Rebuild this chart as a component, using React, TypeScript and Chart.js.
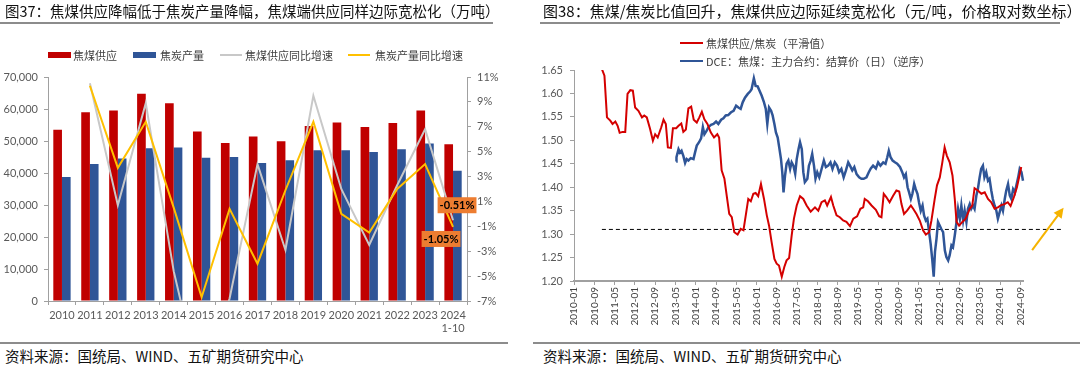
import React, { useEffect, useRef } from 'react';
import { Chart, registerables } from 'chart.js';

Chart.register(...registerables);

// ---------------- Left chart data (万吨 / %) ----------------
const years: (string | string[])[] = ['2010', '2011', '2012', '2013', '2014', '2015', '2016', '2017', '2018', '2019', '2020', '2021', '2022', '2023', ['2024', '1-10']];
const cokingCoalSupply = [53500, 59000, 59500, 64800, 61800, 53000, 49400, 51400, 49900, 54700, 55800, 54400, 55600, 59500, 49000];
const cokeOutput = [38750, 42800, 44500, 47700, 48000, 44800, 45000, 43100, 44000, 47100, 47100, 46600, 47400, 49200, 40700];
const supplyYoY = [null, 10.5, 0.7, 8.9, -4.6, -14.2, -6.8, 4.0, -2.9, 9.5, 2.0, -2.5, 2.3, 6.8, -0.51];
const cokeYoY = [null, 10.3, 3.7, 7.4, 0.5, -6.7, 0.4, -4.0, 1.9, 7.4, 0.0, -1.5, 2.0, 4.0, -1.05];
const leftTicksY = { min: 0, max: 70000, step: 10000 };
const rightTicksY = { min: -7, max: 11, step: 2 };

// ---------------- Right chart data ----------------
// months counted from 2010-01 (0 = 2010-01)
const ratioMonth = [
  11, 12, 13, 14.3, 15.2, 16.3, 17.2, 18, 19.1, 20.2,
  21.1, 22.2, 23.2, 24.1, 25.4, 26.8, 27.7, 28.7, 30, 31.1,
  32, 33, 34.4, 35.3, 36.2, 37, 38.2, 39, 40.3, 41.2,
  42.3, 43.1, 44.1, 45.1, 46.2, 47.2, 48.4, 49.4, 50.4, 51.4,
  52.6, 53.9, 55.2, 56.5, 57.2, 58.2, 59.3, 60.2, 61.2, 62.2,
  63.2, 64.5, 65.7, 66.8, 67.8, 68.7, 69.7, 70.7, 71.6, 72.6,
  73.7, 74.9, 76.0, 76.9, 77.9, 79.0, 79.9, 80.8, 81.9, 82.9,
  83.8, 84.8, 85.8, 86.7, 87.8, 89.1, 90.4, 91.7, 93.3, 95.0,
  96.3, 97.6, 98.9, 99.8, 101.3, 102.2, 103.5, 104.8, 106.1, 107.4,
  108.8, 110.1, 111.6, 112.9, 114.0, 114.6, 115.9, 117.3, 119.0, 120.3,
  121.2, 122.1, 123.1, 124.4, 125.8, 127.1, 128.2, 129.1, 130.1, 131.3,
  132.8, 133.7, 135.0, 136.3, 137.6, 138.7, 140.0, 140.9, 142.2, 143.1,
  144.2, 145.2, 146.1, 147.0, 148.1, 149.2, 150.1, 150.8, 151.8, 153.1,
  154.4, 156.0, 157.0, 157.9, 159.2, 160.6, 161.9, 163.2, 164.5, 165.8,
  167.1, 168.4, 169.7, 171.0, 172.1, 173.4, 174.6, 175.6, 176.3,
];
const ratioValue = [
  1.652, 1.638, 1.549, 1.542, 1.535, 1.540, 1.531, 1.516, 1.518, 1.518,
  1.599, 1.607, 1.606, 1.570, 1.563, 1.549, 1.553, 1.549, 1.524, 1.499,
  1.513, 1.506, 1.528, 1.544, 1.535, 1.485, 1.484, 1.526, 1.526, 1.531,
  1.536, 1.518, 1.523, 1.568, 1.572, 1.544, 1.538, 1.549, 1.561, 1.545,
  1.535, 1.517, 1.506, 1.513, 1.506, 1.436, 1.418, 1.382, 1.343, 1.336,
  1.304, 1.299, 1.311, 1.308, 1.343, 1.375, 1.370, 1.386, 1.388, 1.381,
  1.407, 1.375, 1.340, 1.318, 1.283, 1.247, 1.237, 1.233, 1.209, 1.230,
  1.244, 1.249, 1.297, 1.333, 1.361, 1.381, 1.375, 1.361, 1.348, 1.357,
  1.350, 1.368, 1.372, 1.361, 1.379, 1.361, 1.340, 1.336, 1.329, 1.326,
  1.317, 1.333, 1.338, 1.354, 1.357, 1.375, 1.370, 1.361, 1.352, 1.338,
  1.336, 1.386, 1.379, 1.368, 1.382, 1.393, 1.391, 1.364, 1.343, 1.350,
  1.361, 1.354, 1.343, 1.329, 1.308, 1.299, 1.304, 1.329, 1.375, 1.404,
  1.421, 1.453, 1.485, 1.467, 1.453, 1.425, 1.375, 1.326, 1.318, 1.326,
  1.333, 1.354, 1.361, 1.398, 1.393, 1.386, 1.389, 1.375, 1.368, 1.354,
  1.357, 1.362, 1.364, 1.368, 1.360, 1.379, 1.400, 1.425, 1.443,
];
// DCE coking coal settlement price (元/吨), plotted on a reversed log axis
const dceMonth = [
  40.3, 40.4, 41.2, 41.8, 42.4, 43.1, 43.8, 44.4, 45.1, 46.0,
  47.1, 47.7, 48.4, 49.3, 50.1, 50.8, 51.4, 52.3, 53.0, 54.0,
  55.0, 56.0, 56.9, 58.0, 58.9, 59.8, 60.8, 61.9, 62.9, 63.9,
  64.8, 65.7, 66.5, 67.4, 68.5, 69.4, 70.0, 70.9, 71.6, 72.4,
  73.1, 74.0, 74.9, 75.6, 76.2, 76.9, 77.7, 78.3, 79.0, 79.6,
  80.3, 80.9, 81.6, 82.1, 82.6, 83.2, 83.8, 84.5, 85.2, 85.8,
  86.5, 87.2, 87.8, 88.5, 89.1, 89.8, 90.4, 91.0, 92.0, 92.6,
  93.3, 93.9, 94.6, 95.2, 95.9, 96.7, 97.6, 98.5, 99.3, 100.2,
  101.1, 101.9, 102.8, 103.7, 104.5, 105.4, 106.3, 107.2, 108.1, 108.8,
  109.7, 110.5, 111.4, 112.4, 113.3, 114.2, 115.3, 116.2, 117.0, 117.9,
  119.0, 119.9, 120.8, 121.9, 122.8, 123.5, 124.1, 124.8, 125.6, 126.5,
  127.4, 128.5, 129.4, 130.1, 130.8, 131.5, 132.1, 132.8, 133.4, 134.1,
  134.7, 135.4, 136.0, 136.7, 137.4, 138.0, 138.7, 139.3, 140.0, 140.6,
  141.2, 141.8, 142.3, 142.9, 143.5, 144.2, 144.8, 145.5, 146.2, 146.8,
  147.5, 148.1, 148.8, 149.4, 150.1, 150.8, 151.4, 152.1, 152.7, 153.4,
  154.0, 154.7, 155.3, 156.0, 156.6, 157.3, 157.9, 158.6, 159.2, 159.9,
  160.5, 161.2, 161.8, 162.5, 163.2, 163.8, 164.5, 165.1, 165.8, 166.5,
  167.1, 167.8, 168.5, 169.1, 169.8, 170.4, 171.1, 171.8, 172.4, 173.1,
  173.8, 174.4, 175.1, 175.7, 176.4, 177.0, 177.7, 178.3, 179.3,
];
const dcePrice = [
  1235, 1189, 1106, 1140, 1121, 1174, 1251, 1209, 1225, 1199,
  1209, 1140, 1070, 1038, 1003, 906, 966, 934, 906, 887,
  880, 861, 880, 847, 836, 815, 812, 792, 782, 746,
  759, 768, 724, 694, 671, 657, 643, 583, 624, 627,
  651, 682, 724, 768, 880, 759, 782, 815, 880, 950,
  995, 1088, 1209, 1361, 1633, 1402, 1261, 1225, 1322, 1245,
  1283, 1379, 1209, 1106, 1038, 1106, 1361, 1488, 1444, 1283,
  1225, 1154, 1283, 1444, 1361, 1426, 1322, 1225, 1299, 1283,
  1245, 1322, 1245, 1283, 1361, 1322, 1426, 1339, 1245, 1283,
  1339, 1299, 1385, 1426, 1444, 1444, 1426, 1361, 1316, 1283,
  1316, 1245, 1283, 1245, 1261, 1189, 1121, 1189, 1225, 1245,
  1261, 1299, 1361, 1426, 1385, 1559, 1633, 1733, 1654, 1514,
  1586, 1654, 1785, 1927, 1839, 2010, 2106, 2071, 2341, 2602,
  2981, 3500, 2797, 2484, 2133, 2206, 2273, 2341, 2762, 2930,
  3019, 2881, 2636, 2681, 2412, 2133, 1895, 2071, 1839, 2106,
  1927, 2133, 1895, 1816, 1895, 1839, 1895, 1683, 1586, 1426,
  1322, 1283, 1426, 1361, 1469, 1444, 1606, 1733, 1839, 1927,
  2071, 1951, 1839, 1927, 1733, 1606, 1514, 1683, 1733, 1586,
  1633, 1533, 1426, 1322, 1361, 1469, 1385, 1322, 1261,
];
const refLineMonth = [11, 192.6];
const refLineValue = [1.31, 1.31];
const arrowMonth = [180.6, 192.3];
const arrowValue = [1.266, 1.351];
const ratioAxis = { min: 1.2, max: 1.65, step: 0.05 };
const priceAxis = { min: 540.6, max: 3636.5 };
const monthAxis = { min: 0, max: 177, step: 8 };

const NUM_FONT = 'Lato, "Noto Sans CJK SC", sans-serif';
const CJK_FONT = '"Noto Sans CJK SC", "Noto Sans", sans-serif';
const AXIS_COLOR = '#A0A0A0';
const TICK_COLOR = '#595959';

const pts = (xs: number[], ys: number[]) => xs.map((x, i) => ({ x, y: ys[i] }));

const endLabelPlugin = {
  id: 'endLabels',
  afterDatasetsDraw(chart: any) {
    const ctx = chart.ctx;
    const items = [
      { ds: 2, text: '-0.51%', dx: 4, dy: -15 },
      { ds: 3, text: '-1.05%', dx: -12, dy: 12 },
    ];
    ctx.save();
    ctx.font = `bold 11px ${NUM_FONT}`;
    ctx.textAlign = 'center';
    ctx.textBaseline = 'middle';
    for (const it of items) {
      const meta = chart.getDatasetMeta(it.ds);
      const el = meta.data[meta.data.length - 1];
      if (!el) continue;
      const cx = el.x + it.dx;
      const cy = el.y + it.dy;
      const w = ctx.measureText(it.text).width + 4;
      const h = 16;
      ctx.fillStyle = '#ED7D31';
      ctx.fillRect(cx - w / 2, cy - h / 2, w, h);
      ctx.fillStyle = '#000';
      ctx.fillText(it.text, cx, cy + 0.5);
    }
    ctx.restore();
  },
};

const arrowHeadPlugin = {
  id: 'arrowHead',
  afterDatasetsDraw(chart: any) {
    const meta = chart.getDatasetMeta(3);
    const n = meta.data.length;
    if (n < 2) return;
    const a = meta.data[n - 2];
    const b = meta.data[n - 1];
    const ang = Math.atan2(b.y - a.y, b.x - a.x);
    const len = 10;
    const half = 5;
    const ctx = chart.ctx;
    ctx.save();
    ctx.translate(b.x, b.y);
    ctx.rotate(ang);
    ctx.beginPath();
    ctx.moveTo(3, 0);
    ctx.lineTo(3 - len, -half);
    ctx.lineTo(3 - len, half);
    ctx.closePath();
    ctx.fillStyle = '#F5B300';
    ctx.fill();
    ctx.restore();
  },
};

function LeftChart() {
  const ref = useRef<HTMLCanvasElement>(null);
  useEffect(() => {
    const chart = new Chart(ref.current as HTMLCanvasElement, {
      type: 'bar',
      data: {
        labels: years as any,
        datasets: [
          { type: 'bar', label: '焦煤供应', data: cokingCoalSupply, backgroundColor: '#C00000', yAxisID: 'y', order: 3, categoryPercentage: 0.62, barPercentage: 1 } as any,
          { type: 'bar', label: '焦炭产量', data: cokeOutput, backgroundColor: '#2F5597', yAxisID: 'y', order: 3, categoryPercentage: 0.62, barPercentage: 1 } as any,
          { type: 'line', label: '焦煤供应同比增速', data: supplyYoY, borderColor: '#C8C8C8', backgroundColor: '#C8C8C8', borderWidth: 2, pointRadius: 0, yAxisID: 'y1', order: 2, tension: 0 } as any,
          { type: 'line', label: '焦炭产量同比增速', data: cokeYoY, borderColor: '#FFC000', backgroundColor: '#FFC000', borderWidth: 2, pointRadius: 0, yAxisID: 'y1', order: 1, tension: 0 } as any,
        ],
      },
      options: {
        animation: false,
        responsive: false,
        events: [],
        layout: { padding: { top: 77, left: 0, right: 0, bottom: 0 } },
        plugins: { legend: { display: false }, tooltip: { enabled: false } },
        scales: {
          x: {
            grid: { display: true, drawOnChartArea: false, drawTicks: true, tickLength: 4, color: AXIS_COLOR, offset: true },
            border: { color: AXIS_COLOR },
            ticks: { color: TICK_COLOR, font: { family: NUM_FONT, size: 11 }, maxRotation: 0, autoSkip: false, padding: 4 },
            afterFit: (s: any) => { s.height = 39; },
          },
          y: {
            position: 'left',
            min: leftTicksY.min, max: leftTicksY.max,
            grid: { drawOnChartArea: false, tickLength: 4, color: AXIS_COLOR },
            border: { color: AXIS_COLOR },
            ticks: { stepSize: leftTicksY.step, color: TICK_COLOR, font: { family: NUM_FONT, size: 11 }, padding: 6, callback: (v: any) => Number(v).toLocaleString('en-US') },
            afterFit: (s: any) => { s.width = 48; },
          },
          y1: {
            position: 'right',
            min: rightTicksY.min, max: rightTicksY.max,
            grid: { drawOnChartArea: false, tickLength: 4, color: AXIS_COLOR },
            border: { color: AXIS_COLOR },
            ticks: { stepSize: rightTicksY.step, color: TICK_COLOR, font: { family: NUM_FONT, size: 11 }, padding: 6, callback: (v: any) => `${v}%` },
            afterFit: (s: any) => { s.width = 73; },
          },
        },
      } as any,
      plugins: [endLabelPlugin],
    });
    return () => chart.destroy();
  }, []);
  return <canvas ref={ref} width={540} height={340} style={{ position: 'absolute', left: 0, top: 0 }} />;
}

function RightChart() {
  const ref = useRef<HTMLCanvasElement>(null);
  useEffect(() => {
    const fmt = (v: number) => {
      const m = Math.round(v);
      const y = 2010 + Math.floor(m / 12);
      const mo = (m % 12) + 1;
      return `${y}-${mo < 10 ? '0' + mo : mo}`;
    };
    const chart = new Chart(ref.current as HTMLCanvasElement, {
      type: 'line',
      data: {
        datasets: [
          { label: '焦煤供应/焦炭（平滑值）', data: pts(ratioMonth, ratioValue), borderColor: '#D40000', borderWidth: 2, pointRadius: 0, yAxisID: 'y', tension: 0, order: 1 } as any,
          { label: 'DCE：焦煤：主力合约：结算价（日）（逆序）', data: pts(dceMonth, dcePrice), borderColor: '#2F5597', borderWidth: 2.5, pointRadius: 0, yAxisID: 'y2', tension: 0, clip: false, order: 2 } as any,
          { label: 'ref', data: pts(refLineMonth, refLineValue), borderColor: '#000', borderWidth: 1, borderDash: [4, 3], pointRadius: 0, yAxisID: 'y', clip: false, order: 3 } as any,
          { label: 'arrow', data: pts(arrowMonth, arrowValue), borderColor: '#F5B300', borderWidth: 2, pointRadius: 0, yAxisID: 'y', clip: false, order: 0 } as any,
        ],
      },
      options: {
        animation: false,
        responsive: false,
        events: [],
        layout: { padding: { top: 70, left: 0, right: 57, bottom: 0 } },
        plugins: { legend: { display: false }, tooltip: { enabled: false } },
        scales: {
          x: {
            type: 'linear',
            min: monthAxis.min, max: monthAxis.max, bounds: 'data',
            grid: { drawOnChartArea: false, tickLength: 4, color: AXIS_COLOR },
            border: { color: AXIS_COLOR, width: 2 },
            ticks: {
              stepSize: monthAxis.step, includeBounds: false, autoSkip: false, minRotation: 90, maxRotation: 90,
              color: '#404040', font: { family: NUM_FONT, size: 10 }, padding: 2,
              callback: (v: any) => fmt(Number(v)),
            },
            afterBuildTicks: (s: any) => {
              s.ticks = s.ticks.filter((t: any) => Math.abs(t.value % monthAxis.step) < 1e-6);
            },
            afterFit: (s: any) => { s.height = 59; },
          },
          y: {
            position: 'left',
            min: ratioAxis.min, max: ratioAxis.max,
            grid: { drawOnChartArea: false, tickLength: 4, color: AXIS_COLOR },
            border: { color: AXIS_COLOR },
            ticks: { stepSize: ratioAxis.step, color: TICK_COLOR, font: { family: NUM_FONT, size: 11 }, padding: 7, callback: (v: any) => Number(v).toFixed(2) },
            afterFit: (s: any) => { s.width = 34; },
          },
          y2: {
            type: 'logarithmic', display: false, reverse: true, bounds: 'data',
            min: priceAxis.min, max: priceAxis.max,
          },
        },
      } as any,
      plugins: [arrowHeadPlugin],
    });
    return () => chart.destroy();
  }, []);
  return <canvas ref={ref} width={540} height={340} style={{ position: 'absolute', left: 540, top: 0 }} />;
}

const abs = (s: React.CSSProperties): React.CSSProperties => ({ position: 'absolute', whiteSpace: 'nowrap', ...s });

function LegendText({ left, cy, text }: { left: number; cy: number; text: string }) {
  return <div style={abs({ left, top: cy - 8, height: 16, lineHeight: '16px', fontSize: 11, color: '#404040', fontFamily: CJK_FONT })}>{text}</div>;
}

export default function App() {
  return (
    <div style={{ position: 'absolute', left: 0, top: 0, width: 1080, height: 366, background: '#fff', overflow: 'hidden', fontFamily: CJK_FONT }}>
      <LeftChart />
      <RightChart />

      {/* titles */}
      <div style={abs({ left: 5, top: 2, fontSize: 14.5, lineHeight: '18px', color: '#111' })}>图37：焦煤供应降幅低于焦炭产量降幅，焦煤端供应同样边际宽松化（万吨）</div>
      <div style={abs({ left: 0, top: 22, width: 493, height: 2, background: '#8C8C8C' })} />
      <div style={abs({ left: 543, top: 2, fontSize: 15, lineHeight: '18px', color: '#111' })}>图38：焦煤/焦炭比值回升，焦煤供应边际延续宽松化（元/吨，价格取对数坐标）</div>
      <div style={abs({ left: 540, top: 22, width: 520, height: 2, background: '#8C8C8C' })} />

      {/* left legend */}
      <div style={abs({ left: 48, top: 52, width: 23, height: 6, background: '#C00000' })} />
      <LegendText left={73} cy={55} text="焦煤供应" />
      <div style={abs({ left: 133, top: 52, width: 23, height: 6, background: '#2F5597' })} />
      <LegendText left={160} cy={55} text="焦炭产量" />
      <div style={abs({ left: 220, top: 54, width: 22, height: 2, background: '#C8C8C8' })} />
      <LegendText left={245} cy={55} text="焦煤供应同比增速" />
      <div style={abs({ left: 348, top: 54, width: 22, height: 2, background: '#FFC000' })} />
      <LegendText left={375} cy={55} text="焦炭产量同比增速" />

      {/* right legend */}
      <div style={abs({ left: 680, top: 42, width: 23, height: 2, background: '#D40000' })} />
      <LegendText left={706} cy={43} text="焦煤供应/焦炭（平滑值）" />
      <div style={abs({ left: 680, top: 60, width: 23, height: 2, background: '#2F5597' })} />
      <LegendText left={706} cy={61} text="DCE：焦煤：主力合约：结算价（日）（逆序）" />

      {/* sources */}
      <div style={abs({ left: 0, top: 342, width: 508, height: 2, background: '#8C8C8C' })} />
      <div style={abs({ left: 533, top: 342, width: 547, height: 2, background: '#8C8C8C' })} />
      <div style={abs({ left: 5, top: 347, fontSize: 14.5, lineHeight: '18px', color: '#111' })}>资料来源：国统局、WIND、五矿期货研究中心</div>
      <div style={abs({ left: 543, top: 347, fontSize: 14.5, lineHeight: '18px', color: '#111' })}>资料来源：国统局、WIND、五矿期货研究中心</div>
    </div>
  );
}
